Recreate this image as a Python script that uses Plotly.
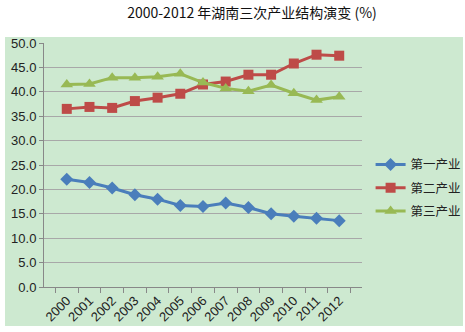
import plotly.graph_objects as go

years = ["2000","2001","2002","2003","2004","2005","2006","2007","2008","2009","2010","2011","2012"]
primary = [22.1, 21.4, 20.3, 18.9, 18.0, 16.7, 16.5, 17.2, 16.3, 15.0, 14.5, 14.1, 13.6]
secondary = [36.5, 36.9, 36.7, 38.1, 38.8, 39.6, 41.5, 42.1, 43.5, 43.5, 45.8, 47.6, 47.4]
tertiary = [41.5, 41.6, 42.9, 42.9, 43.1, 43.7, 41.9, 40.7, 40.1, 41.4, 39.7, 38.3, 39.0]
names = ["第一产业", "第二产业", "第三产业"]
title = "2000-2012 年湖南三次产业结构演变 (%)"

fig = go.Figure()
specs = [(primary, "#4a7ebb", "diamond", 10), (secondary, "#be4b48", "square", 10), (tertiary, "#98b954", "triangle-up", 11)]
for i, ((vals, col, sym, sz), nm) in enumerate(zip(specs, names)):
    fig.add_trace(go.Scatter(x=years, y=vals, name=nm, mode="lines+markers", legendgroup=f"g{i}",
                             line=dict(color=col, width=3),
                             marker=dict(symbol=sym, size=sz, color=col)))

fig.add_shape(type="rect", xref="paper", yref="paper", x0=-0.1226, x1=1.3176, y0=-0.1598, y1=1.0246,
              fillcolor="#cde9d0", line=dict(width=0), layer="below")

fig.update_layout(
    width=465, height=332,
    margin=dict(l=44, r=103, t=43, b=45, autoexpand=False),
    paper_bgcolor="white", plot_bgcolor="rgba(0,0,0,0)",
    font=dict(family="Liberation Sans, Arial", size=12, color="#222"),
    title=dict(text=title, x=252/465, xanchor="center", y=1-13/332, yanchor="middle",
               font=dict(family="Noto Sans CJK SC", size=14, color="#111")),
    legend=dict(x=1.027, y=0.406, xanchor="left", yanchor="middle", bgcolor="rgba(0,0,0,0)",
                font=dict(family="Noto Sans CJK SC", size=12.5, color="#222"), tracegroupgap=4,
                itemwidth=30),
    showlegend=True,
)
fig.update_xaxes(type="category", showgrid=False, showline=True, linecolor="#888", linewidth=1,
                 ticks="outside", tickson="boundaries", ticklen=5, tickcolor="#888",
                 tickangle=-45, tickfont=dict(size=13, color="#222"))
fig.update_yaxes(range=[0, 50], dtick=5, tickformat=".1f", showgrid=True, gridcolor="#a8a8a8", gridwidth=1,
                 showline=True, linecolor="#888", linewidth=1, ticks="outside", ticklen=4, tickcolor="#888",
                 zeroline=False, tickfont=dict(size=13, color="#222"))

fig.write_html("out.html")
